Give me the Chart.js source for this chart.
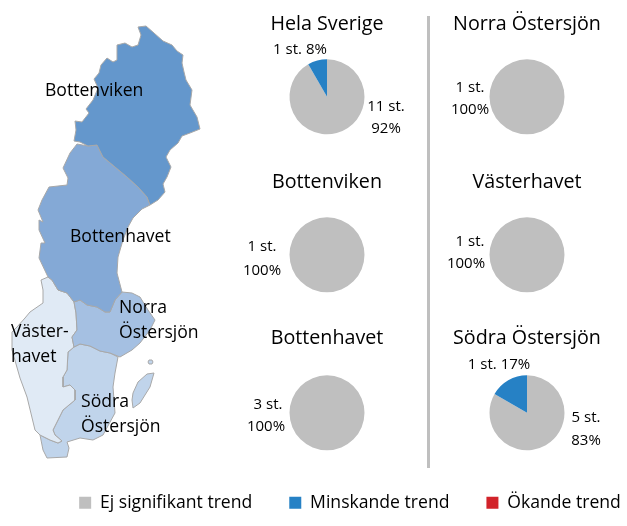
<!DOCTYPE html>
<html lang="sv"><head><meta charset="utf-8">
<script src="https://cdn.jsdelivr.net/npm/chart.js@4"></script>
<style>html,body{margin:0;padding:0;background:#fff;width:627px;height:526px;overflow:hidden}
canvas{position:absolute;display:block}</style></head><body>
<canvas id="map" width="627" height="526" style="left:0;top:0"></canvas>
<canvas id="p0" width="200" height="148" style="left:227px;top:9px"></canvas>
<canvas id="p1" width="200" height="148" style="left:227px;top:167px"></canvas>
<canvas id="p2" width="200" height="152" style="left:227px;top:323px"></canvas>
<canvas id="p3" width="200" height="148" style="left:427px;top:9px"></canvas>
<canvas id="p4" width="200" height="148" style="left:427px;top:167px"></canvas>
<canvas id="p5" width="200" height="152" style="left:427px;top:323px"></canvas>
<canvas id="lg" width="700" height="160" style="left:0px;top:457px"></canvas>
<script>
const FONT = '"Open Sans"';
const trendCategories = ['Ej signifikant trend', 'Minskande trend', 'Ökande trend'];
const trendColors = ['#bfbfbf', '#2681c5', '#d2232a'];
const regionNames = ['Hela Sverige', 'Bottenviken', 'Bottenhavet', 'Norra Östersjön', 'Västerhavet', 'Södra Östersjön'];
const helaSverige = [11, 1, 0];
const bottenviken = [1, 0, 0];
const bottenhavet = [3, 0, 0];
const norraOstersjon = [1, 0, 0];
const vasterhavet = [1, 0, 0];
const sodraOstersjon = [5, 1, 0];
const regionCounts = [helaSverige, bottenviken, bottenhavet, norraOstersjon, vasterhavet, sodraOstersjon];

// Map outlines, [x, y] in the map's own units
const mapBottenviken = [[138,27],[146,26],[154,33],[163,41],[172,45],[177,51],[183,55],[182,63],[184,72],[186,80],[192,90],[190,105],[197,117],[200,129],[190,133],[182,136],[178,143],[170,150],[166,157],[171,167],[167,177],[163,184],[165,192],[158,200],[150,205],[147,197],[138,187],[127,177],[115,167],[103,157],[97,145],[88,146],[80,142],[74,141],[76,130],[75,121],[82,122],[89,113],[86,109],[93,100],[98,88],[94,79],[99,73],[101,65],[107,58],[113,62],[117,60],[117,45],[125,43],[132,47],[138,45],[141,35]];
const mapBottenhavet = [[77,144],[88,146],[97,145],[103,157],[115,167],[127,177],[138,187],[147,197],[150,205],[142,209],[133,218],[128,227],[123,240],[118,257],[117,273],[122,292],[115,300],[110,312],[105,312],[97,307],[87,305],[80,300],[74,302],[67,293],[58,290],[52,280],[48,277],[39,258],[41,243],[45,243],[39,230],[39,220],[43,222],[38,210],[42,200],[49,187],[67,185],[68,178],[63,168],[70,153]];
const mapNorra = [[74,302],[80,300],[87,305],[97,307],[105,312],[110,312],[115,300],[122,292],[132,293],[140,297],[148,310],[155,320],[150,330],[140,343],[132,350],[120,357],[110,353],[100,351],[90,346],[80,344],[74,347],[72,337],[77,330],[76,313]];
const mapVasterhavet = [[41,280],[48,277],[52,280],[58,290],[67,293],[74,302],[76,313],[77,330],[72,337],[74,347],[68,352],[67,370],[63,377],[63,387],[70,385],[75,390],[75,400],[63,410],[53,430],[55,435],[62,441],[58,443],[50,440],[40,435],[35,430],[27,397],[20,378],[12,350],[12,332],[17,327],[25,318],[30,312],[43,303],[43,290]];
const mapSodra = [[74,347],[80,344],[90,346],[100,351],[110,353],[118,357],[115,373],[113,387],[115,413],[103,435],[93,440],[80,438],[67,442],[69,448],[67,457],[47,458],[43,450],[40,435],[50,440],[58,443],[62,441],[55,435],[53,430],[63,410],[75,400],[75,390],[70,385],[63,387],[63,377],[67,370],[68,352]];
const mapGotland = [[133,393],[138,382],[147,374],[154,373],[150,387],[140,403],[133,408],[132,400]];
const mapOland = [[149,360],[152,360],[153,362],[152,364],[149,364],[148,362]];
const mapShapes = [mapBottenviken, mapBottenhavet, mapNorra, mapVasterhavet, mapSodra, mapGotland, mapOland];
const mapColors = ['#6497cc', '#84a9d6', '#a5c0e2', '#e0eaf5', '#c0d4eb', '#c0d4eb', '#c0d4eb'];
const dividerLine = [[428.5,16],[428.5,468]];

const mapLabels = [
  {t:'Bottenviken', x:45, y:91},
  {t:'Bottenhavet', x:70, y:237},
  {t:'Norra', x:119, y:308},
  {t:'Östersjön', x:119, y:333},
  {t:'Väster-', x:11, y:332},
  {t:'havet', x:11, y:357},
  {t:'Södra', x:81, y:402},
  {t:'Östersjön', x:81, y:427}
];

// Where the value labels sit: [region index, slice index, part, x, y]
const labelSpots = [
  [0,1,'both',300,49],[0,0,'n',386,106],[0,0,'p',386,128],
  [1,0,'n',262,246],[1,0,'p',262,270],
  [2,0,'n',268,404],[2,0,'p',266,426],
  [3,0,'n',470,87],[3,0,'p',470,109],
  [4,0,'n',470,241],[4,0,'p',466,263],
  [5,1,'both',499,364],[5,0,'n',586,417],[5,0,'p',586,440]
];

const toPts = a => a.concat([a[0]]).map(p => ({x:p[0], y:p[1]}));
const mapLabelPlugin = { id:'mapLabels', afterDatasetsDraw(c){
  const g=c.ctx; g.save(); g.font='17.6px '+FONT; g.fillStyle='#000'; g.textBaseline='middle'; g.textAlign='left';
  mapLabels.forEach(l=>g.fillText(l.t, c.scales.x.getPixelForValue(l.x), c.scales.y.getPixelForValue(l.y)));
  g.restore();
}};
const mapDatasets = mapShapes.map((s,i)=>({data:toPts(s), showLine:true, fill:'shape', backgroundColor:mapColors[i], borderColor:'#a8a8a8', borderWidth:1, pointRadius:0, tension:0}));
mapDatasets.push({data:dividerLine.map(p=>({x:p[0],y:p[1]})), showLine:true, fill:false, borderColor:'#bfbfbf', borderWidth:3, pointRadius:0});
new Chart(document.getElementById('map'), {type:'scatter', data:{datasets:mapDatasets}, plugins:[mapLabelPlugin], options:{
  responsive:false, animation:false, layout:{padding:0},
  plugins:{legend:{display:false}, tooltip:{enabled:false}},
  scales:{x:{type:'linear',min:0,max:627,display:false}, y:{type:'linear',min:0,max:526,reverse:true,display:false}}
}});

regionNames.forEach((name,i)=>{
  const vals = regionCounts[i];
  const total = vals.reduce((a,b)=>a+b,0);
  const cv = document.getElementById('p'+i);
  const ox = parseFloat(cv.style.left), oy = parseFloat(cv.style.top);
  const valuePlugin = { id:'valueLabels', afterDatasetsDraw(c){
    const g=c.ctx; g.save(); g.font='15px '+FONT; g.fillStyle='#000'; g.textAlign='center'; g.textBaseline='middle';
    labelSpots.filter(s=>s[0]===i).forEach(s=>{
      const n=vals[s[1]], p=Math.round(n/total*100)+'%', st=n+' st.';
      const t = s[2]==='both' ? st+' '+p : s[2]==='n' ? st : p;
      g.fillText(t, s[3]-ox, s[4]+1-oy);
    });
    g.restore();
  }};
  new Chart(cv, {type:'pie',
    data:{labels:trendCategories, datasets:[{data:vals, backgroundColor:trendColors, borderWidth:0}]},
    plugins:[valuePlugin],
    options:{responsive:false, animation:false, radius:37.5, layout:{padding:0},
      plugins:{legend:{display:false}, tooltip:{enabled:false},
        title:{display:true, text:name, color:'#000', font:{family:FONT, size:19.7, weight:'normal', lineHeight:1.2}, padding:{top:4,bottom:0}}}}
  });
});

const totals = trendCategories.map((_,k)=>regionCounts.slice(1).reduce((a,r)=>a+r[k],0));
new Chart(document.getElementById('lg'), {type:'pie',
  data:{labels:trendCategories, datasets:[{data:totals, backgroundColor:trendColors, borderWidth:0}]},
  options:{responsive:false, animation:false, radius:0, layout:{padding:0},
    plugins:{tooltip:{enabled:false}, title:{display:false},
      legend:{display:true, position:'top', labels:{boxWidth:12, boxHeight:12, padding:37, color:'#000', font:{family:FONT, size:17.6}}}}}
});
</script></body></html>
